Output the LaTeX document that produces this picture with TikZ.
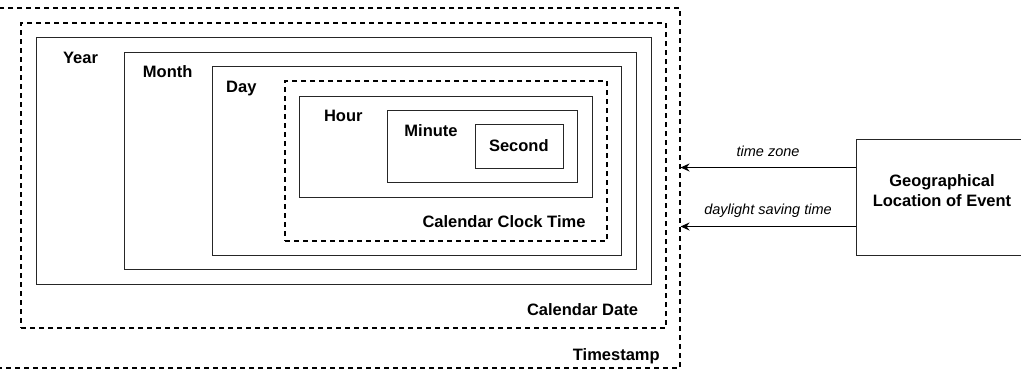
\documentclass[tikz,border=0pt]{standalone}
\usepackage{fontspec}
\setmainfont{Liberation Sans}
\usetikzlibrary{fit,arrows.meta}
\begin{document}
\begin{tikzpicture}[x=1pt,y=-1pt,
  sbox/.style={draw=black!85, line width=1pt, inner sep=0pt},
  dbox/.style={draw=black, line width=1.6pt, dash pattern=on 5pt off 4pt, inner sep=0pt},
  tbox/.style={draw=black, line width=1.1pt, dash pattern=on 5pt off 4pt, inner sep=0pt},
  lbl/.style={font=\fontsize{16.5}{19}\selectfont\bfseries, inner sep=0pt, anchor=base},
  elbl/.style={font=\fontsize{14.5}{17}\selectfont\itshape, inner sep=0pt, anchor=base},
  arr/.style={draw=black, line width=1pt, -{Stealth[length=9pt,width=8pt,inset=3pt]}}
]
\useasboundingbox (0,0) rectangle (1021,373);
% boxes
\node[tbox, fit={(-3,8) (680,368)}] (ts) {};
\node[dbox, fit={(21,23) (666,328)}] (cd) {};
\node[sbox, fit={(36,37) (651,284)}] (yr) {};
\node[sbox, fit={(124,52) (636,269)}] (mo) {};
\node[sbox, fit={(212,66) (621,255)}] (dy) {};
\node[dbox, fit={(285,81) (607,241)}] (ct) {};
\node[sbox, fit={(299,96) (592,197)}] (hr) {};
\node[sbox, fit={(387,110) (577,182)}] (mi) {};
\node[sbox, fit={(475,124) (563,168)}] (se) {};
\node[sbox, fit={(856,139) (1028,255)}] (geo) {};
% labels
\node[lbl] (lyr) at (80.5,63.3) {Year};
\node[lbl] (lmo) at (167.7,77.3) {Month};
\node[lbl] (ldy) at (241.3,92.7) {Day};
\node[lbl] (lhr) at (343.3,121.3) {Hour};
\node[lbl] (lmi) at (431,136) {Minute};
\node[lbl] (lse) at (518.8,151) {Second};
\node[lbl] (lct) at (504,227.7) {Calendar Clock Time};
\node[lbl] (lcd) at (582.5,315.7) {Calendar Date};
\node[lbl] (lts) at (616.3,360) {Timestamp};
\node[lbl] (lg1) at (942,186.7) {Geographical};
\node[lbl] (lg2) at (942,206) {Location of Event};
% arrows
\draw[arr] ([yshift=29.5pt]geo.west) -- ([yshift=29.5pt]geo.west -| ts.east)
  node[elbl, pos=0.5, yshift=11pt] (ltz) {time zone};
\draw[arr] ([yshift=-29.5pt]geo.west) -- ([yshift=-29.5pt]geo.west -| ts.east)
  node[elbl, pos=0.5, yshift=12.5pt] (ldst) {daylight saving time};
\end{tikzpicture}
\end{document}
